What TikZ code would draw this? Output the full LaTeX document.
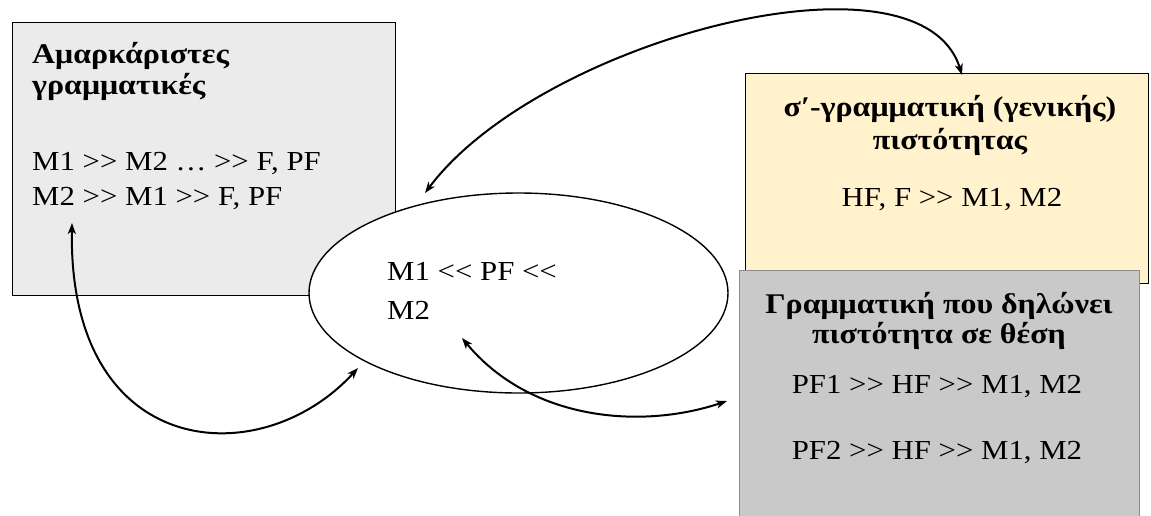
\documentclass[tikz,border=0pt]{standalone}
\usepackage{fontspec}
\setmainfont{Liberation Serif}[FakeStretch=1.12]
\usetikzlibrary{arrows.meta,shapes.geometric}
\definecolor{boxA}{HTML}{EBEBEB}
\definecolor{boxY}{HTML}{FFF2CC}
\definecolor{boxG}{HTML}{C9C9C9}
\definecolor{edgeG}{HTML}{8C8C8C}
\tikzset{
  panel/.style={draw, line width=1.3pt, inner sep=0pt, anchor=north west},
  txt/.style={inner sep=0pt, font=\fontsize{27.5}{32}\selectfont},
  hd/.style={inner sep=0pt, font=\fontsize{28.5}{33}\selectfont\bfseries},
  link/.style={line width=2pt, {Stealth[length=11pt,width=8pt,inset=3pt]}-{Stealth[length=11pt,width=8pt,inset=3pt]}},
}
\begin{document}
\begin{tikzpicture}[x=1pt,y=-1pt]
\clip (0,0) rectangle (1151,515);
\fill[white] (0,0) rectangle (1151,515);
% panels
\node[panel, fill=boxA, minimum width=383pt, minimum height=273pt] (amark) at (12,22) {};
\node[draw, ellipse, fill=white, line width=1.4pt, inner sep=0pt, minimum width=419pt, minimum height=200pt] (core) at (518.5,293) {};
\node[panel, fill=boxY, minimum width=403pt, minimum height=210pt] (sigma) at (745,73) {};
\node[panel, fill=boxG, draw=edgeG, minimum width=400pt, minimum height=280pt] (thesi) at (739,270) {};
% texts
\node[hd, anchor=base west] (t1) at (32,63) {Αμαρκάριστες};
\node[hd, anchor=base west] (t2) at (32,94) {γραμματικές};
\node[txt, anchor=base west] (t3) at (32,170) {M1 >{}> M2 … >{}> F, PF};
\node[txt, anchor=base west] (t4) at (32,205) {M2 >{}> M1 >{}> F, PF};
\node[hd, anchor=base] (y1) at (950,116) {σ′-γραμματική (γενικής)};
\node[hd, anchor=base] (y2) at (950,149) {πιστότητας};
\node[txt, anchor=base] (y3) at (952,206) {HF, F >{}> M1, M2};
\node[hd, anchor=base] (g1) at (939,313) {Γραμματική που δηλώνει};
\node[hd, anchor=base] (g2) at (939,343) {πιστότητα σε θέση};
\node[txt, anchor=base] (g3) at (937,393) {PF1 >{}> HF >{}> M1, M2};
\node[txt, anchor=base] (g4) at (937,459) {PF2 >{}> HF >{}> M1, M2};
\node[txt, anchor=base west] (e1) at (387,280) {M1 <{}< PF <{}<};
\node[txt, anchor=base west] (e2) at (387,319) {M2};
% connector ends
\coordinate (a1) at (72,223);
\coordinate (a2) at (358,368);
\coordinate (b1) at (462,338);
\coordinate (b2) at (727,401);
\coordinate (c1) at (425,193);
\coordinate (c2) at (962,75);
\draw[link] (a1) .. controls (68,460) and (260,475) .. (a2);
\draw[link] (b1) .. controls (530,420) and (640,430) .. (b2);
\draw[link] (c1) .. controls (540,40) and (920,-60) .. (c2);
\end{tikzpicture}
\end{document}
